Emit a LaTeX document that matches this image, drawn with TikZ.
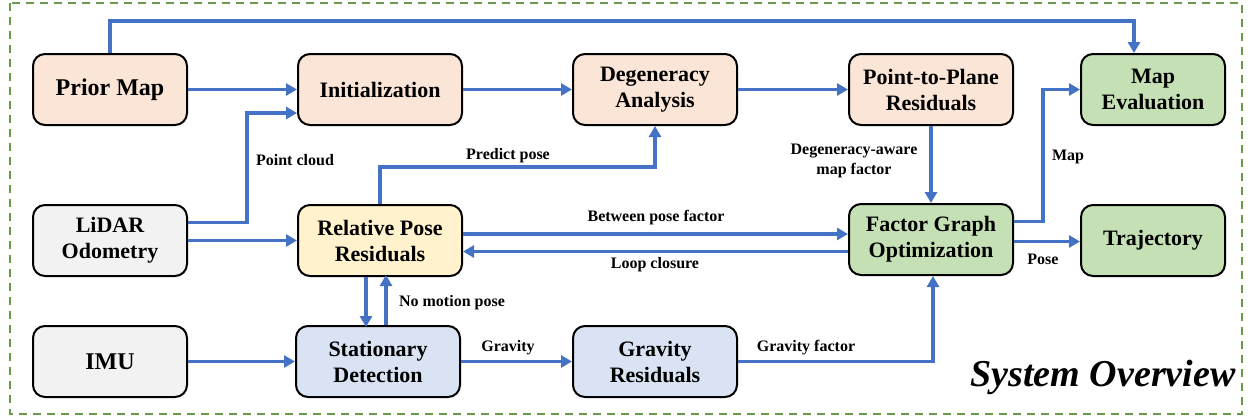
\documentclass[tikz,border=0pt]{standalone}
\usepackage{fontspec}
\setmainfont{Liberation Serif}
\usetikzlibrary{arrows.meta}
\definecolor{peach}{HTML}{FBE5D6}
\definecolor{boxgray}{HTML}{F2F2F2}
\definecolor{paleyellow}{HTML}{FFF2CC}
\definecolor{paleblue}{HTML}{DAE3F3}
\definecolor{palegreen}{HTML}{C5E0B4}
\definecolor{flowblue}{HTML}{4472C4}
\definecolor{framegreen}{HTML}{6B9A4B}
\newcommand{\boxfont}{\bfseries\fontsize{11}{13}\selectfont}
\tikzset{
  block/.style   = {draw, line width=1pt, rounded corners=6pt, align=center,
                    minimum width=82pt, minimum height=35.5pt, inner sep=0pt,
                    font=\boxfont},
  narrow/.style  = {block, minimum width=77pt},
  slim/.style    = {block, minimum width=72pt},
  flow/.style    = {draw=flowblue, line width=1.8pt,
                    -{Triangle[length=5.5pt,width=6pt]}},
  lbl/.style     = {font=\bfseries\fontsize{8}{10}\selectfont, align=center,
                    inner sep=0pt}
}

\begin{document}
\begin{tikzpicture}[x=0.5pt,y=-0.5pt]
  \useasboundingbox (0,0) rectangle (1252,419);
  \draw[framegreen, line width=1pt, dash pattern=on 4pt off 3pt]
    (10,3) rectangle (1242,414);

  \node[narrow, fill=peach, font=\bfseries\fontsize{12}{14}\selectfont] (prior) at (110,89.5) {Prior Map};
  \node[block, fill=peach] (init) at (380,89.5) {Initialization};
  \node[block, fill=peach] (degen) at (655,89.5) {Degeneracy\\Analysis};
  \node[block, fill=peach] (p2p) at (931,89.5) {Point-to-Plane\\Residuals};
  \node[slim, fill=palegreen] (mapeval) at (1153,89.5) {Map\\Evaluation};

  \node[narrow, fill=boxgray] (lidar) at (110,240.5) {LiDAR\\Odometry};
  \node[block, fill=paleyellow] (relpose) at (380,240.5) {Relative Pose\\Residuals};
  \node[block, fill=palegreen] (fgo) at (931,239.5) {Factor Graph\\Optimization};
  \node[slim, fill=palegreen] (traj) at (1153,240.5) {Trajectory};

  \node[narrow, fill=boxgray, font=\bfseries\fontsize{12}{14}\selectfont] (imu) at (110,361.5) {IMU};
  \node[block, fill=paleblue] (stat) at (378,361.5) {Stationary\\Detection};
  \node[block, fill=paleblue] (gravres) at (655,361.5) {Gravity\\Residuals};

  \draw[flow] (prior.north) -- ++(0,-32) -| ([xshift=-9.5pt]mapeval.north);
  \draw[flow] (prior) -- (init);
  \draw[flow] ([yshift=9pt]lidar.east) -- ++(59,0) |- ([yshift=-11.75pt]init.west);
  \draw[flow] (lidar) -- (relpose);
  \draw[flow] (init) -- (degen);
  \draw[flow] (relpose.north) -- ++(0,-37) -| (degen.south);
  \draw[flow] (degen) -- (p2p);
  \draw[flow] (p2p) -- (fgo);
  \draw[flow] ([yshift=9pt]fgo.east) -- ++(29,0) |- (mapeval.west);
  \draw[flow] ([yshift=-1pt]fgo.east) -- ([yshift=-1pt]fgo.east -| traj.west);
  \draw[flow] ([yshift=3.25pt]relpose.east) -- ([yshift=3.25pt]relpose.east -| fgo.west);
  \draw[flow] ([yshift=-6pt]fgo.west) -- ([yshift=-6pt]fgo.west -| relpose.east);
  \draw[flow] ([xshift=-7pt]relpose.south) -- ++(0,50);
  \draw[flow] ([xshift=4pt]stat.north) -- ++(0,-50);
  \draw[flow] (imu) -- (stat);
  \draw[flow] (stat) -- (gravres);
  \draw[flow] (gravres.east) -| ([xshift=1pt]fgo.south);

  \node[lbl] (cloudlbl) at (295,160) {Point cloud};
  \node[lbl] (predictlbl) at (508,156) {Predict pose};
  \node[lbl] (awarelbl) at (854,161) {Degeneracy-aware\\map factor};
  \node[lbl] (maplbl) at (1068,157) {Map};
  \node[lbl] (poselbl) at (1043,259) {Pose};
  \node[lbl] (betweenlbl) at (656,218) {Between pose factor};
  \node[lbl] (looplbl) at (655,265) {Loop closure};
  \node[lbl] (nomotionlbl) at (452,303) {No motion pose};
  \node[lbl] (gravitylbl) at (508,348) {Gravity};
  \node[lbl] (gfactorlbl) at (806,348) {Gravity factor};

  \node[font=\bfseries\itshape\fontsize{19}{22}\selectfont, inner sep=0pt] (title) at (1103,377) {System Overview};
\end{tikzpicture}
\end{document}
